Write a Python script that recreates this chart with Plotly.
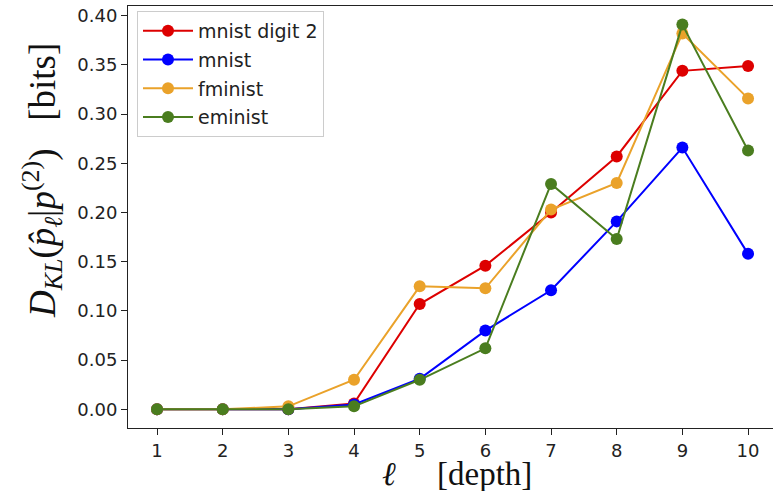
import plotly.graph_objects as go

depth = [1, 2, 3, 4, 5, 6, 7, 8, 9, 10]
mnist_digit2 = [0.0, 0.0, 0.0, 0.006, 0.107, 0.146, 0.200, 0.257, 0.344, 0.349]
mnist = [0.0, 0.0, 0.0, 0.005, 0.031, 0.080, 0.121, 0.191, 0.266, 0.158]
fminist = [0.0, 0.0, 0.003, 0.030, 0.125, 0.123, 0.203, 0.230, 0.382, 0.316]
eminist = [0.0, 0.0, 0.0, 0.003, 0.030, 0.062, 0.229, 0.173, 0.391, 0.263]

series = [
    ("mnist digit 2", mnist_digit2, "#dd0000"),
    ("mnist", mnist, "#0000ff"),
    ("fminist", fminist, "#eaa22a"),
    ("eminist", eminist, "#4a7d1f"),
]
y_ticks = [0.00, 0.05, 0.10, 0.15, 0.20, 0.25, 0.30, 0.35, 0.40]

fig = go.Figure()
for name, vals, col in series:
    fig.add_trace(go.Scatter(
        x=depth, y=vals, name=name, mode="lines+markers", legendgroup=name,
        line=dict(color=col, width=2),
        marker=dict(color=col, size=12),
    ))

W, H = 773, 491
L, R, T, B = 128, 0, 6, 63
pw, ph = W - L - R, H - T - B

axis_common = dict(
    showline=True, linecolor="#222", linewidth=1, ticks="outside", ticklen=6,
    tickcolor="#222", tickwidth=1, showgrid=False, zeroline=False,
    tickfont=dict(family="DejaVu Sans", size=18, color="#222"),
)
fig.update_xaxes(range=[0.558, 10.38], tickvals=depth, mirror=True, **axis_common)
fig.update_yaxes(range=[-0.019, 0.4099], tickvals=y_ticks,
                 ticktext=[f"{v:.2f}" for v in y_ticks], mirror=False, **axis_common)

fig.add_annotation(
    text="<i>ℓ</i>\u2003\u00a0[depth]", showarrow=False,
    xref="paper", yref="paper", x=(457 - L) / pw, y=(H - B - 474) / ph,
    xanchor="center", yanchor="middle",
    font=dict(family="Liberation Serif", size=33, color="#111"),
)
fig.add_annotation(
    text=("<i>D</i><sub><i>KL</i></sub>(<i>p̂</i><sub><i>ℓ</i></sub>|"
          "<i>p</i><sup>(2)</sup>)\u2002\u00a0[bits]"),
    showarrow=False, textangle=-90,
    xref="paper", yref="paper", x=(42 - L) / pw, y=(H - B - 181) / ph,
    xanchor="center", yanchor="middle",
    font=dict(family="Liberation Serif", size=37, color="#111"),
)

fig.update_layout(
    width=W, height=H, margin=dict(l=L, r=R, t=T, b=B),
    paper_bgcolor="white", plot_bgcolor="white",
    legend=dict(
        x=(137 - L) / pw, y=(H - B - 11) / ph, xanchor="left", yanchor="top",
        bgcolor="white", bordercolor="#cccccc", borderwidth=1,
        font=dict(family="DejaVu Sans", size=19, color="#222"),
        tracegroupgap=1, itemwidth=50,
    ),
)

fig.write_html("out.html")
